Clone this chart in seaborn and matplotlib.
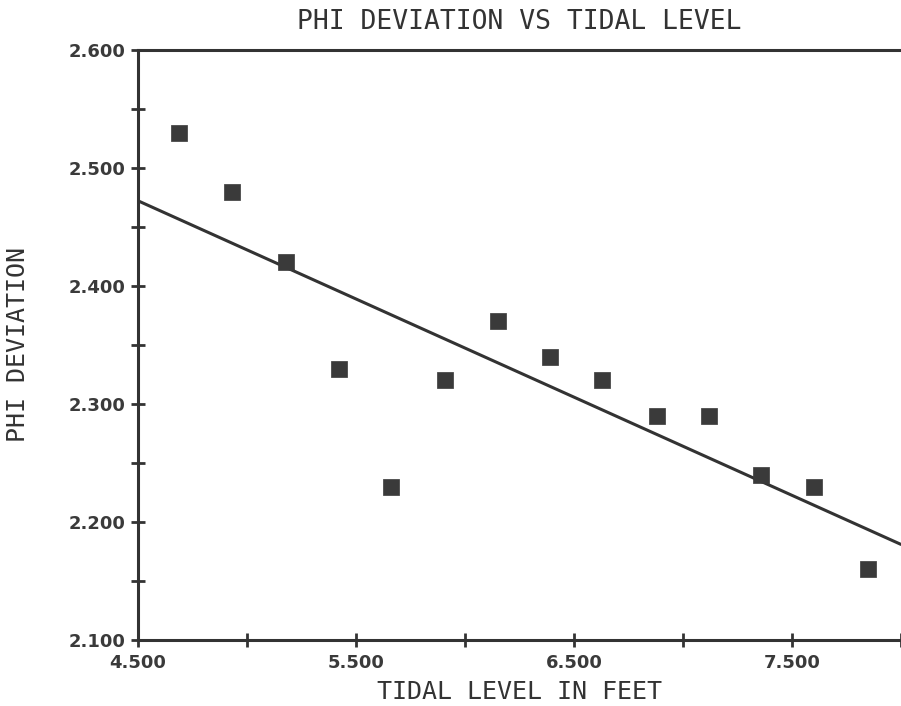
import matplotlib
matplotlib.use("Agg")
import matplotlib.pyplot as plt
import seaborn as sns
import numpy as np
import pandas as pd
from matplotlib.ticker import FixedLocator, FormatStrFormatter

# Data
tidal_level = [4.69, 4.93, 5.18, 5.42, 5.66, 5.91, 6.15, 6.39, 6.63, 6.88, 7.12, 7.36, 7.60, 7.85]
phi_deviation = [2.53, 2.48, 2.42, 2.33, 2.23, 2.32, 2.37, 2.34, 2.32, 2.29, 2.29, 2.24, 2.23, 2.16]
x_major = [4.5, 5.5, 6.5, 7.5]
x_minor = [5.0, 6.0, 7.0, 8.0]
y_major = [2.1, 2.2, 2.3, 2.4, 2.5, 2.6]
y_minor = [2.15, 2.25, 2.35, 2.45, 2.55]

df = pd.DataFrame({"x": tidal_level, "y": phi_deviation})

sns.set_style("white")
ink = "#333333"
mono = ["DejaVu Sans Mono"]

fig = plt.figure(figsize=(9.01, 7.06), dpi=100)
ax = fig.add_axes([138 / 901, 66 / 706, 763 / 901, 590 / 706])
ax.set_xlim(4.5, 8.0)
ax.set_ylim(2.1, 2.6)

sns.regplot(data=df, x="x", y="y", ax=ax, scatter=False, ci=None, truncate=False,
            line_kws=dict(color=ink, lw=2.2, zorder=2))
sns.scatterplot(data=df, x="x", y="y", ax=ax, marker="s", s=140, color="#3a3a3a",
                edgecolor="#3a3a3a", linewidth=0.5, zorder=3, legend=False)

ax.xaxis.set_major_locator(FixedLocator(x_major))
ax.xaxis.set_minor_locator(FixedLocator(x_minor))
ax.yaxis.set_major_locator(FixedLocator(y_major))
ax.yaxis.set_minor_locator(FixedLocator(y_minor))
ax.xaxis.set_major_formatter(FormatStrFormatter("%.3f"))
ax.yaxis.set_major_formatter(FormatStrFormatter("%.3f"))

ax.tick_params(which="both", direction="inout", length=10, width=2, color=ink,
               bottom=True, left=True, top=False, right=False)
ax.tick_params(axis="x", which="major", pad=5)
ax.tick_params(axis="y", which="major", pad=4)
for lab in ax.get_xticklabels() + ax.get_yticklabels():
    lab.set_fontsize(13)
    lab.set_fontweight("bold")
    lab.set_color("#3a3a3a")
    lab.set_family("DejaVu Sans")

for side in ["left", "bottom", "top"]:
    ax.spines[side].set_visible(True)
    ax.spines[side].set_color(ink)
    ax.spines[side].set_linewidth(2.2)
ax.spines["right"].set_visible(False)

ax.set_xlabel("TIDAL LEVEL IN FEET", fontsize=18, family=mono, color=ink, labelpad=6)
ax.set_ylabel("PHI DEVIATION", fontsize=18, family=mono, color=ink, labelpad=28)
fig.text(519 / 901, 1 - 22 / 706, "PHI DEVIATION VS TIDAL LEVEL", fontsize=19,
         family=mono, color=ink, ha="center", va="center")

fig.savefig("out.png", dpi=100, facecolor="white")
